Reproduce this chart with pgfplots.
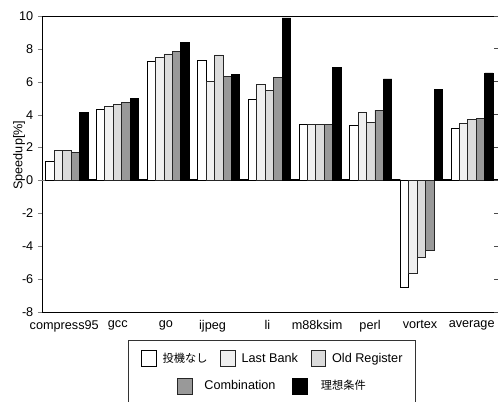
\documentclass[border=0pt]{standalone}
\usepackage{fontspec}
\setmainfont{Liberation Sans}
\newfontfamily\cjk{Noto Sans CJK JP}
\usepackage{pgfplots}
\pgfplotsset{compat=1.18}
\usepackage{pgfplotstable}
\newcommand{\fs}{\fontsize{9.5}{11}\selectfont}
\newcommand{\cjks}{\cjk\fontsize{8.4}{11}\selectfont}

\pgfplotstableread{
k s1 s2 s3 s4 s5 z
0 1.13 1.84 1.84 1.70 4.15 0
1 4.33 4.52 4.60 4.74 4.96 0
2 7.25 7.47 7.69 7.85 8.40 0
3 7.31 6.01 7.63 6.32 6.46 0
4 4.90 5.85 5.49 6.28 9.88 0
5 3.38 3.42 3.42 3.42 6.86 0
6 3.34 4.15 3.50 4.27 6.17 0
7 -6.53 -5.67 -4.65 -4.23 5.51 0
8 3.14 3.48 3.69 3.79 6.54 0
}\data

\pgfplotsset{
  sw/.style={legend image code/.code={\path[draw,fill,##1] (0pt,-6pt) rectangle (11pt,6pt);}},
  swsh/.style={legend image code/.code={\path[draw=none,fill=none] (0pt,-6pt) rectangle (11pt,6pt);
      \path[draw,fill,##1,overlay,xshift=#1] (0pt,-6pt) rectangle (11pt,6pt);}},
}

\begin{document}
\begin{tikzpicture}
\begin{axis}[
  scale only axis, width=342.75pt, height=222pt,
  xmin=-0.573, xmax=8.448, ymin=-8, ymax=10,
  ybar=0pt, bar width=0.16667,
  ytick={-8,-6,...,10}, ytick pos=left, tick align=outside, major tick length=3pt,
  xtick={-0.135,0.923,1.871,2.793,3.878,4.859,5.902,6.889,7.909},
  xticklabels={compress95,gcc,go,ijpeg,li,m88ksim,perl,vortex,average},
  x tick style={draw=none},
  tick label style={font=\fs},
  /pgf/number format/assume math mode=true,
  ylabel={Speedup[\%]},
  ylabel style={font=\fs, at={(axis description cs:-0.027,0.53)}, anchor=south},
  extra y ticks={0}, extra y tick labels={},
  extra y tick style={grid=major, major grid style={draw=gray, line width=0.5pt}, major tick length=0pt},
  axis line style={line width=0.6pt},
  legend columns=3,
  legend cell align=left,
  legend style={at={(axis description cs:0.503,-0.0946)}, anchor=north,
    draw=black!80, line width=0.6pt, font=\fs,
    inner xsep=9.75pt, inner ysep=7.5pt, row sep=8.25pt,
    nodes={inner sep=0pt},
    /tikz/every odd column/.append style={column sep=4.5pt},
    /tikz/every even column/.append style={column sep=9.5pt}},
]
\addplot[fill=white, draw=black, line width=0.6pt, sw] table[x=k,y=s1]{\data};
\addlegendentry{{\cjks 投機なし}}
\addplot[fill=black!6, draw=black!85, line width=0.6pt, sw] table[x=k,y=s2]{\data};
\addlegendentry{Last Bank}
\addplot[fill=black!14, draw=black!85, line width=0.6pt, sw] table[x=k,y=s3]{\data};
\addlegendentry{Old Register}
\addplot[fill=black!40, draw=black!85, line width=0.6pt, swsh=27pt] table[x=k,y=s4]{\data};
\addlegendentry{\rlap{\hspace{30.75pt}Combination}}
\addplot[fill=black, draw=black, line width=0.6pt, swsh=54pt] table[x=k,y=s5]{\data};
\addlegendentry{\rlap{\hspace{59pt}\cjks 理想条件}}
\addplot[draw=black, line width=1.5pt, line join=bevel] table[x=k,y=z]{\data};
\end{axis}
\begin{axis}[
  scale only axis, width=342.75pt, height=222pt,
  xmin=0, xmax=1, ymin=-8, ymax=10,
  axis x line=none, axis y line*=right,
  ytick={-8,-6,...,10}, yticklabels={},
  tick align=inside, major tick length=3.5pt,
  y tick style={draw=gray!60!black, line width=0.6pt},
]
\end{axis}
\pgfresetboundingbox
\path[use as bounding box] (current axis.south west) ++(-31.5pt,-66.75pt) rectangle ++(373.5pt,300.75pt);
\end{tikzpicture}
\end{document}
